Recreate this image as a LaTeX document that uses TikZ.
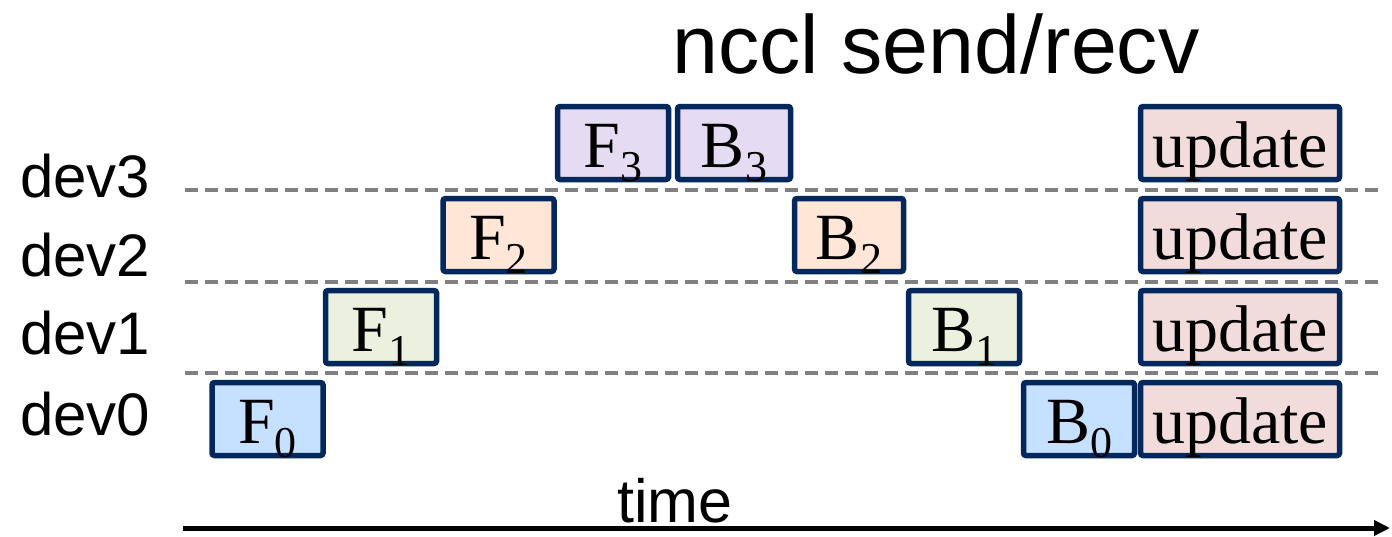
\documentclass[tikz,border=0pt]{standalone}
\usepackage{fontspec}
\setmainfont{Liberation Serif}
\newfontfamily\labelfont{Liberation Sans}
\usetikzlibrary{arrows.meta}

\definecolor{navy}{RGB}{4,40,92}
\definecolor{fillblue}{RGB}{198,224,255}
\definecolor{fillgreen}{RGB}{235,241,222}
\definecolor{fillorange}{RGB}{255,230,214}
\definecolor{fillpurple}{RGB}{229,219,242}
\definecolor{fillpink}{RGB}{242,220,219}
\definecolor{gridgray}{RGB}{128,128,128}

% lowered index digit after a stage letter
\newcommand\stageidx[1]{\raisebox{-14pt}{\fontsize{44}{44}\selectfont #1}}

\tikzset{
  stagebox/.style={draw=navy, line width=5.5pt, rounded corners=2.5pt,
    inner sep=0pt, minimum height=73pt, minimum width=111pt,
    text height=48pt, text depth=0pt,
    font=\fontsize{66}{66}\selectfont},
  updbox/.style={stagebox, fill=fillpink, minimum width=199pt},
  devlabel/.style={anchor=base west, inner sep=0pt,
    font=\labelfont\fontsize{60}{60}\selectfont},
  rowline/.style={draw=gridgray, line width=4.5pt, dash pattern=on 13pt off 7pt},
}

\begin{document}
\begin{tikzpicture}[x=1pt, y=-1pt]
\useasboundingbox (0,0) rectangle (1392,536);

% separators between device rows
\coordinate (l3a) at (185,190); \coordinate (l3b) at (1385,190);
\coordinate (l2a) at (185,282); \coordinate (l2b) at (1385,282);
\coordinate (l1a) at (185,373); \coordinate (l1b) at (1385,373);
\draw[rowline] (l3a) -- (l3b);
\draw[rowline] (l2a) -- (l2b);
\draw[rowline] (l1a) -- (l1b);

% device labels
\node[devlabel] (dev3) at (20,197) {dev3};
\node[devlabel] (dev2) at (20,276) {dev2};
\node[devlabel] (dev1) at (20,354) {dev1};
\node[devlabel] (dev0) at (20,435) {dev0};

% title
\node[anchor=base west, inner sep=0pt, font=\labelfont\fontsize{82.5}{82.5}\selectfont]
  (title) at (672,73) {nccl send/recv};

% forward stages
\node[stagebox, fill=fillblue]   (f0) at (267.5,419) {F\stageidx{0}};
\node[stagebox, fill=fillgreen]  (f1) at (381,327)   {F\stageidx{1}};
\node[stagebox, fill=fillorange] (f2) at (498.5,235) {F\stageidx{2}};
\node[stagebox, fill=fillpurple] (f3) at (613,143)   {F\stageidx{3}};

% backward stages
\node[stagebox, fill=fillpurple, minimum width=113pt] (b3) at (734,143)  {B\stageidx{3}};
\node[stagebox, fill=fillorange, minimum width=109pt] (b2) at (849,235)  {B\stageidx{2}};
\node[stagebox, fill=fillgreen]  (b1) at (964,327)  {B\stageidx{1}};
\node[stagebox, fill=fillblue]   (b0) at (1079,419) {B\stageidx{0}};

% parameter updates
\node[updbox] (u3) at (1240,143) {update};
\node[updbox] (u2) at (1240,235) {update};
\node[updbox] (u1) at (1240,327) {update};
\node[updbox] (u0) at (1240,419) {update};

% time axis
\node[anchor=base west, inner sep=0pt, font=\labelfont\fontsize{61}{61}\selectfont]
  (timelbl) at (617,522) {time};
\coordinate (ta) at (183,528);
\coordinate (tb) at (1390,528);
\draw[line width=5pt, -{Triangle[length=16pt,width=15pt]}] (ta) -- (tb);
\end{tikzpicture}
\end{document}
